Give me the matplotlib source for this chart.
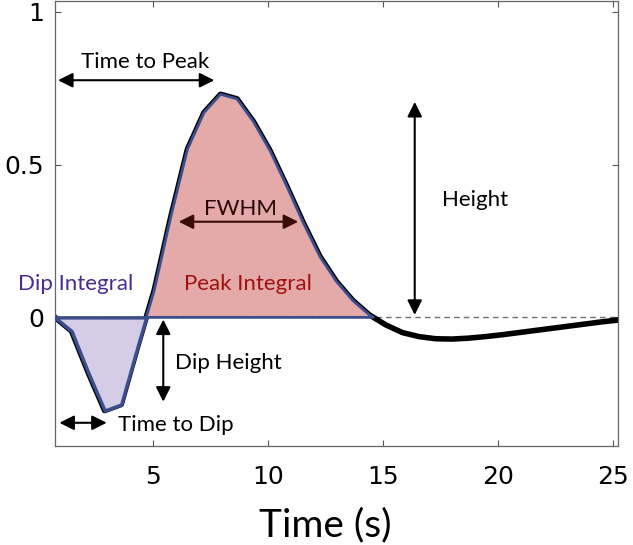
import numpy as np
import matplotlib.pyplot as plt

# sample times (TR = 0.72 s) and response amplitude
t = 0.72 * np.arange(1, 36)
y = np.array([0.0, -0.045, -0.18, -0.305, -0.285, -0.094, 0.09, 0.33, 0.55,
              0.67, 0.73, 0.715, 0.64, 0.545, 0.43, 0.31, 0.20, 0.118, 0.055,
              0.008, -0.025, -0.05, -0.063, -0.07, -0.071, -0.068, -0.063,
              -0.057, -0.05, -0.043, -0.036, -0.029, -0.022, -0.015, -0.009])

ann_font = "Lato"
edge = "#3a4e8c"

fig = plt.figure(figsize=(6.33, 5.45), dpi=100)
ax = fig.add_axes([0.0869, 0.1822, 0.8889, 0.8158])

ax.axhline(0, color="#707070", lw=1, ls=(0, (4, 3)), zorder=1)
ax.plot(t, y, color="black", lw=4, zorder=2)
early = t < 6
ax.fill_between(t, y, 0, where=y >= 0, interpolate=True, facecolor="#e3aaa9",
                edgecolor=edge, lw=2, zorder=3)
ax.fill_between(t, y, 0, where=(y <= 0) & early, interpolate=True,
                facecolor="#d5cde8", edgecolor=edge, lw=2.5, zorder=3)


def darrow(x0, y0, x1, y1, color="black"):
    ax.annotate("", xy=(x1, y1), xytext=(x0, y0),
                arrowprops=dict(arrowstyle="<|-|>", color=color, lw=1.5,
                                mutation_scale=22, shrinkA=0, shrinkB=0),
                zorder=5)


darrow(0.85, 0.776, 7.65, 0.776)
ax.text(4.65, 0.835, "Time to Peak", family=ann_font, fontsize=16,
        ha="center", va="center")

darrow(6.1, 0.313, 11.3, 0.313, color="#3b0a0a")
ax.text(8.8, 0.355, "FWHM", family=ann_font, fontsize=16, color="#2a0808",
        ha="center", va="center")

darrow(16.37, 0.008, 16.37, 0.705)
ax.text(17.55, 0.384, "Height", family=ann_font, fontsize=16,
        ha="left", va="center")

ax.text(1.6, 0.11, "Dip Integral", family=ann_font, fontsize=16,
        color="#4b2c8c", ha="center", va="center", clip_on=False)
ax.text(9.1, 0.11, "Peak Integral", family=ann_font, fontsize=16,
        color="#a01010", ha="center", va="center")

darrow(5.43, -0.007, 5.43, -0.276)
ax.text(5.95, -0.148, "Dip Height", family=ann_font, fontsize=16,
        ha="left", va="center")

darrow(0.91, -0.345, 2.97, -0.345)
ax.text(3.45, -0.352, "Time to Dip", family=ann_font, fontsize=16,
        ha="left", va="center")

ax.set_xlim(0.72, 25.2)
ax.set_ylim(-0.42, 1.035)
ax.set_xticks([5, 10, 15, 20, 25])
ax.set_yticks([0, 0.5, 1])
ax.set_yticklabels(["0", "0.5", "1"])
ax.tick_params(direction="in", length=4, width=0.8, color="#555555",
               top=True, right=True, labelsize=18)
ax.tick_params(axis="x", pad=14)
ax.tick_params(axis="y", pad=8)
for lab in ax.get_xticklabels() + ax.get_yticklabels():
    lab.set_family("DejaVu Sans")
for s in ax.spines.values():
    s.set_color("#666666")
    s.set_linewidth(0.9)
ax.set_xlabel("Time (s)", family=ann_font, fontsize=28)
ax.xaxis.set_label_coords(0.481, -0.139)

fig.savefig("out.png", dpi=100)
